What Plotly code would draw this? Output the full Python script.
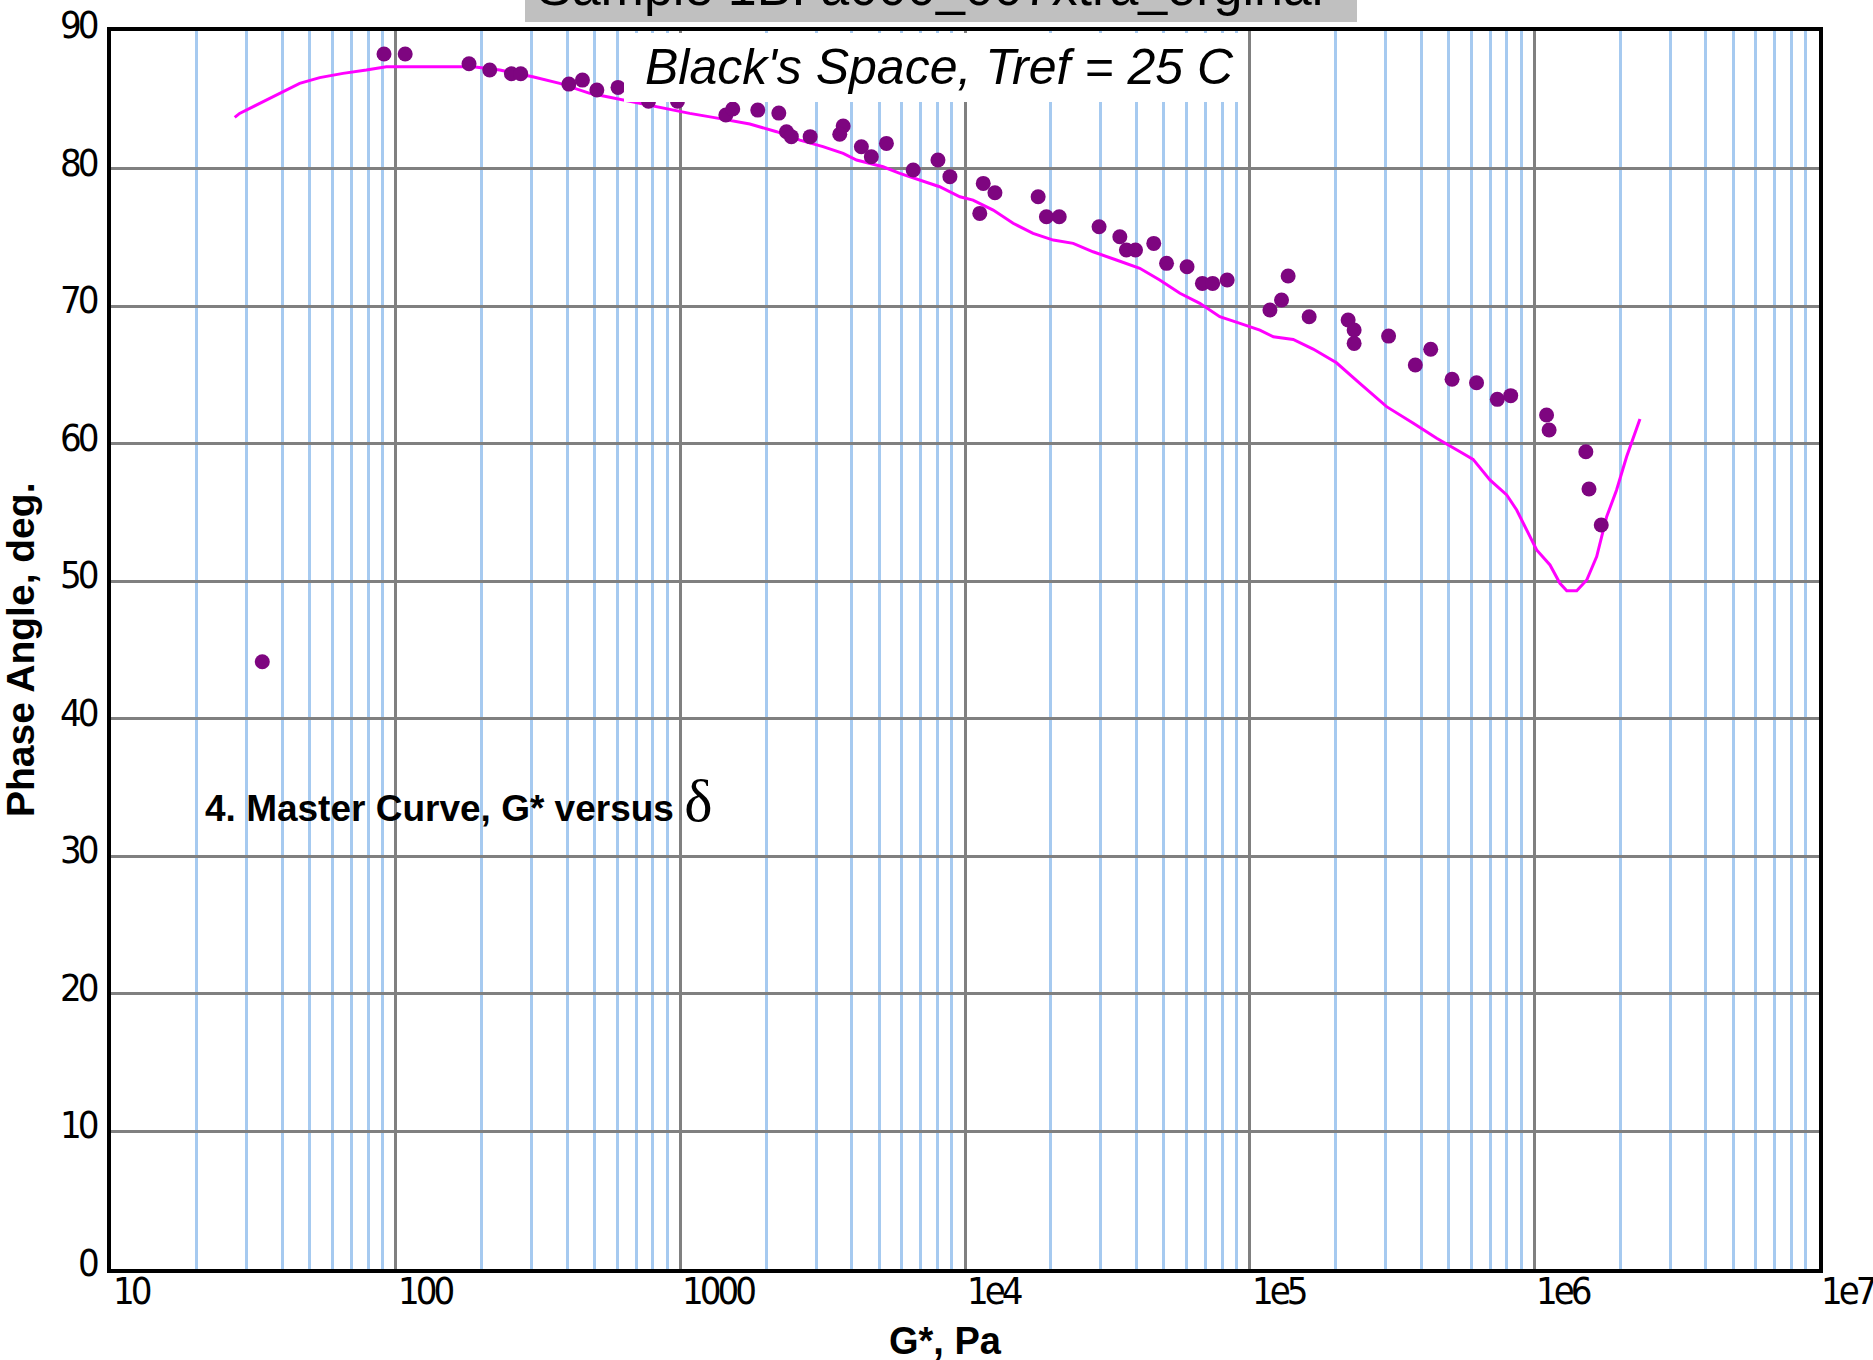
import math
import plotly.graph_objects as go

# Measured complex shear modulus |G*| (Pa) and phase angle (deg)
g_measured = [
    34.0, 91.0, 108, 181, 214, 255, 275, 406, 453, 509, 604, 773, 977,
    1445, 1528, 1871, 2218, 2360, 2455, 2858, 3733, 3631, 4325, 4688, 5297,
    6577, 8035, 8851, 11590, 12740, 11270, 18070, 19320, 21430, 29580,
    34990, 36900, 39720, 46030, 51050, 60260, 68230, 74130, 83370,
    117800, 129400, 136500, 161800, 221800, 232800, 232800, 307600,
    381900, 432500, 514000, 626600, 741300, 826000, 1104000, 1127000,
    1517000, 1556000, 1718000,
]
delta_measured = [
    44.15, 88.33, 88.33, 87.62, 87.16, 86.89, 86.89, 86.14, 86.43, 85.71, 85.90, 84.9, 84.9,
    83.89, 84.33, 84.25, 84.03, 82.68, 82.32, 82.32, 83.09, 82.49, 81.59, 80.86, 81.83,
    79.89, 80.62, 79.41, 78.92, 78.24, 76.74, 77.95, 76.50, 76.50, 75.77,
    75.04, 74.08, 74.08, 74.56, 73.11, 72.86, 71.65, 71.65, 71.90,
    69.72, 70.44, 72.19, 69.23, 68.99, 68.26, 67.29, 67.82,
    65.72, 66.86, 64.68, 64.43, 63.22, 63.49, 62.08, 60.99,
    59.41, 56.70, 54.09,
]

# Fitted master curve in Black's space
g_fit = [
    27.2, 28.3, 33.3, 39.1, 46.0, 54.1, 65.3, 78.9, 92.7, 187, 232, 303, 377,
    481, 630, 780, 942, 1079, 1303, 1754, 2178, 2630, 3170, 3733, 4159,
    5152, 5902, 6934, 8147, 9594, 10670, 12560, 14760, 17340, 20420,
    23990, 28180, 34040, 41110, 48310, 56890, 66830, 78520, 92470,
    108600, 121100, 142200, 167100, 201800, 243800, 302700, 375800,
    453900, 548300, 609500, 698200, 799800, 867000, 939800, 1019000,
    1135000, 1230000, 1300000, 1409000, 1528000, 1656000, 1795000,
    1945000, 2109000, 2228000, 2350000,
]
delta_fit = [
    83.72, 84.01, 84.74, 85.47, 86.19, 86.61, 86.92, 87.16, 87.40, 87.40, 87.16, 86.68, 86.19,
    85.47, 84.98, 84.62, 84.25, 84.01, 83.72, 83.24, 82.68, 82.07, 81.59, 81.10, 80.62,
    80.13, 79.65, 79.16, 78.68, 77.95, 77.71, 76.98, 76.02, 75.29, 74.80,
    74.56, 73.95, 73.35, 72.75, 71.90, 70.93, 70.20, 69.23, 68.75,
    68.26, 67.77, 67.58, 66.88, 65.88, 64.39, 62.69, 61.48,
    60.39, 59.41, 58.86, 57.36, 56.27, 55.18, 53.72, 52.27,
    51.18, 49.85, 49.31, 49.31, 50.09, 51.79, 54.69,
    56.63, 59.05, 60.50, 61.79,
]

x_tick_values = [10, 100, 1000, 1e4, 1e5, 1e6, 1e7]
x_tick_labels = ["10", "100", "1000", "1e4", "1e5", "1e6", "1e7"]
y_tick_values = [0, 10, 20, 30, 40, 50, 60, 70, 80, 90]
y_tick_labels = [str(v) for v in y_tick_values]

# 2..9 within every decade for the light vertical grid
x_minor_values = [m * 10 ** k for k in range(1, 7) for m in range(2, 10)]

chart_title = "Sample 1B: a000_007xtra_orginal"
inner_title = "Black's Space, Tref = 25 C"
x_title = "G*, Pa"
y_title = "Phase Angle, deg."

NARROW = "DejaVu Sans Condensed, Liberation Sans Narrow, Arial Narrow, Liberation Sans, sans-serif"
SANS = "Liberation Sans, Arial, Helvetica, sans-serif"
TICK_SIZE = 38
TICK_FONT = dict(family=NARROW, size=TICK_SIZE, color="black")


def tight(s):
    # pull the condensed digits a little closer together
    return "<span style='letter-spacing:-4px'>" + s + "</span>"


W, H = 1873, 1360
ML, MR, MT, MB = 111, 54, 31, 91

fig = go.Figure()

fig.add_trace(go.Scatter(
    x=g_fit, y=delta_fit, mode="lines",
    line=dict(color="#FF00FF", width=3),
    hoverinfo="skip", showlegend=False,
))
fig.add_trace(go.Scatter(
    x=g_measured, y=delta_measured, mode="markers",
    marker=dict(color="#7E0580", size=15, line=dict(width=0)),
    showlegend=False,
))

fig.update_xaxes(
    type="log", range=[1, 7], automargin=False,
    tickvals=x_tick_values, showticklabels=False, ticks="",
    showgrid=True, gridcolor="#808080", gridwidth=3,
    minor=dict(tickvals=x_minor_values, showgrid=True,
               gridcolor="#A6CAF0", gridwidth=3, ticks=""),
    showline=True, linecolor="black", linewidth=4, mirror=True,
    zeroline=False,
)
fig.update_yaxes(
    range=[0, 90], tickvals=y_tick_values, automargin=False,
    showticklabels=False, ticks="",
    showgrid=True, gridcolor="#808080", gridwidth=3,
    showline=True, linecolor="black", linewidth=4, mirror=True,
    zeroline=False,
)

annotations = []
# x tick labels start just right of their decade line
for v, lab in zip(x_tick_values, x_tick_labels):
    annotations.append(dict(
        x=math.log10(v), xref="x", y=0, yref="paper",
        xanchor="left", yanchor="top", xshift=0, yshift=2,
        text=tight(lab), showarrow=False, font=TICK_FONT,
    ))
# y tick labels sit left of the frame, raised a little above their grid line
for v, lab in zip(y_tick_values, y_tick_labels):
    annotations.append(dict(
        x=0, xref="paper", y=v, yref="y",
        xanchor="right", yanchor="middle", xshift=-11, yshift=6,
        text=tight(lab), showarrow=False, font=TICK_FONT,
    ))

px_w = W - ML - MR
px_h = H - MT - MB


def paper_x(px):
    return (px - ML) / px_w


def paper_y(py):
    return (H - MB - py) / px_h


annotations += [
    dict(x=paper_x(945), y=paper_y(1341), xref="paper", yref="paper",
         xanchor="center", yanchor="middle", showarrow=False,
         text=x_title, font=dict(family=SANS, size=38, color="black", weight="bold")),
    dict(x=paper_x(20), y=paper_y(650), xref="paper", yref="paper",
         xanchor="center", yanchor="middle", showarrow=False, textangle=-90,
         text=y_title, font=dict(family=SANS, size=39, color="black", weight="bold")),
    dict(x=paper_x(939), y=paper_y(67), xref="paper", yref="paper",
         xanchor="center", yanchor="middle", showarrow=False,
         text=inner_title, font=dict(family=SANS, size=50, color="black", style="italic")),
    dict(x=paper_x(203), y=paper_y(836), xref="paper", yref="paper",
         xanchor="left", yanchor="bottom", showarrow=False,
         text=("<b>4. Master Curve, G* versus</b> "
               "<span style='font-family:Liberation Serif, Times New Roman, serif;font-size:60px'>δ</span>"),
         font=dict(family=SANS, size=37, color="black")),
    # title runs off the top edge, only its lower part shows in the grey strip
    dict(x=paper_x(930), y=paper_y(18), xref="paper", yref="paper",
         xanchor="center", yanchor="bottom", showarrow=False,
         text=chart_title, font=dict(family=SANS, size=52, color="black")),
]

shapes = [
    # white panel behind the inner caption
    dict(type="rect", xref="paper", yref="paper", layer="above",
         x0=paper_x(624), x1=paper_x(1248), y0=paper_y(102), y1=paper_y(33),
         fillcolor="white", line=dict(width=0)),
    # grey title strip along the top edge
    dict(type="rect", xref="paper", yref="paper", layer="above",
         x0=paper_x(525), x1=paper_x(1357), y0=paper_y(22), y1=paper_y(-10),
         fillcolor="#C0C0C0", line=dict(width=0)),
]

fig.update_layout(
    width=W, height=H, autosize=False,
    margin=dict(l=ML, r=MR, t=MT, b=MB, pad=0, autoexpand=False),
    paper_bgcolor="white", plot_bgcolor="white",
    annotations=annotations, shapes=shapes,
    showlegend=False,
)

fig.write_html("out.html")
